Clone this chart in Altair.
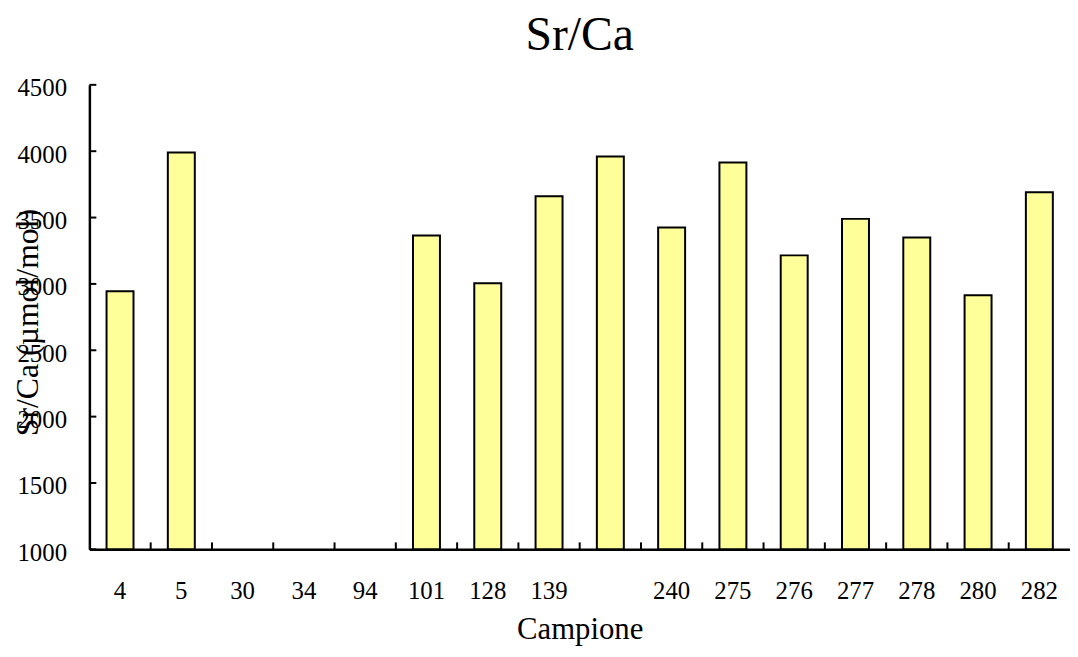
import altair as alt
import pandas as pd

categories = ["4", "5", "30", "34", "94", "101", "128", "139", " ", "240",
              "275", "276", "277", "278", "280", "282"]
values = [2945, 3990, None, None, None, 3365, 3005, 3660, 3960, 3425,
          3915, 3215, 3490, 3350, 2915, 3690]
y_ticks = [1000, 1500, 2000, 2500, 3000, 3500, 4000, 4500]

W, H = 988, 468
FONT = "Liberation Serif"
YTITLE = "Sr/Ca (µmol/mol)"

df = pd.DataFrame({"Campione": categories, "val": values})
tick_df = pd.DataFrame({"Campione": categories[:-1]})
ytick_df = pd.DataFrame({"val": y_ticks})

xscale = alt.Scale(domain=categories, paddingInner=0, paddingOuter=0)
yscale = alt.Scale(domain=[1000, 4500], zero=False, nice=False)

bars = alt.Chart(df).mark_bar(
    width=alt.RelativeBandSize(0.44), fill="#FFFF99", stroke="black", strokeWidth=2
).encode(
    x=alt.X("Campione:N", scale=xscale, sort=categories, title="Campione",
            axis=alt.Axis(labelAngle=0, ticks=False, labelFontSize=25, labelFont=FONT,
                          labelColor="black", labelPadding=30, titleFontSize=31,
                          titleFont=FONT, titleFontWeight="normal", titleColor="black",
                          titlePadding=11, domainColor="black", domainWidth=2.5)),
    y=alt.Y("val:Q", scale=yscale, title=YTITLE,
            axis=alt.Axis(values=y_ticks, format="d", ticks=False, grid=False,
                          labelFontSize=25, labelFont=FONT, labelColor="black",
                          labelPadding=23, labelOffset=3,
                          titleFontSize=32, titleFont=FONT, titleFontWeight="normal",
                          titleColor="black", titleX=-52, titleY=H / 2 + 5,
                          titleBaseline="alphabetic", domainColor="black",
                          domainWidth=2.5)),
    y2=alt.datum(1000),
)

xticks = alt.Chart(tick_df).mark_rule(color="black", strokeWidth=2).encode(
    x=alt.X("Campione:N", scale=xscale, sort=categories, bandPosition=1,
            title="Campione"),
    y=alt.value(H - 7),
    y2=alt.value(H),
)

yticks = alt.Chart(ytick_df).mark_rule(color="black", strokeWidth=2).encode(
    y=alt.Y("val:Q", scale=yscale, title=YTITLE),
    x=alt.value(0),
    x2=alt.value(7),
)

chart = alt.layer(bars, xticks, yticks).properties(
    width=W, height=H,
    title=alt.TitleParams("Sr/Ca", fontSize=48, font=FONT, fontWeight="normal",
                          color="black", offset=16),
    autosize=alt.AutoSizeParams(type="none"),
    padding={"left": 82, "top": 75, "right": 0, "bottom": 98},
).configure_view(stroke=None)

chart.save("out.html", embed_options={"renderer": "svg", "actions": False})
